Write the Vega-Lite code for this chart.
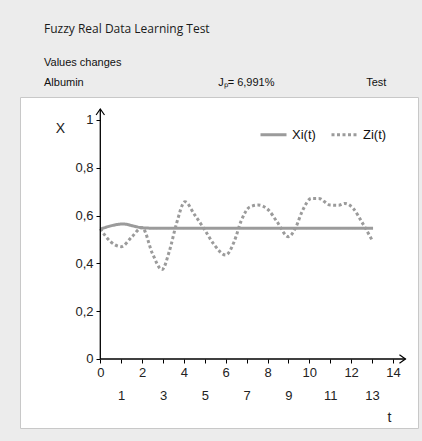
{
  "$schema": "https://vega.github.io/schema/vega-lite/v6.json",
  "width": 398,
  "height": 331,
  "autosize": {"type": "none"},
  "padding": {"left": 20, "top": 97, "right": 4, "bottom": 13},
  "background": "#ececec",
  "title": {
    "text": "Fuzzy Real Data Learning Test",
    "subtitle": ["Values changes", "Albumin\u00a0\u00a0\u00a0\u00a0\u00a0\u00a0\u00a0\u00a0\u00a0\u00a0\u00a0\u00a0\u00a0\u00a0\u00a0\u00a0\u00a0\u00a0\u00a0\u00a0\u00a0\u00a0\u00a0\u00a0\u00a0\u00a0\u00a0\u00a0\u00a0\u00a0\u00a0\u00a0\u00a0\u00a0\u00a0\u00a0\u00a0\u00a0\u00a0\u00a0\u00a0\u00a0\u00a0\u00a0Jₚ= 6,991%\u00a0\u00a0\u00a0\u00a0\u00a0\u00a0\u00a0\u00a0\u00a0\u00a0\u00a0\u00a0\u00a0\u00a0\u00a0\u00a0\u00a0\u00a0\u00a0\u00a0\u00a0\u00a0\u00a0\u00a0\u00a0\u00a0\u00a0\u00a0\u00a0\u00a0Test"],
    "anchor": "start",
    "frame": "group",
    "dx": 24,
    "offset": 8,
    "font": "Open Sans",
    "fontSize": 12,
    "fontWeight": "normal",
    "color": "#1a1a1a",
    "subtitleFont": "Liberation Sans",
    "subtitleFontSize": 11,
    "subtitleColor": "#111111",
    "subtitlePadding": 21,
    "subtitleLineHeight": 20
  },
  "config": {
    "view": {"fill": "white", "stroke": "#c8c8c8"},
    "axis": {
      "grid": false,
      "domain": false,
      "tickColor": "#000000",
      "tickSize": 4,
      "tickWidth": 1,
      "labelFont": "Liberation Sans",
      "labelFontSize": 13,
      "labelColor": "#222222",
      "labelPadding": 3,
      "labelOverlap": false,
      "labelFlush": false,
      "labelBound": false,
      "titleFont": "Liberation Sans",
      "titleFontSize": 14,
      "titleFontWeight": "normal",
      "titleColor": "#222222",
      "titleAngle": 0,
      "titleAlign": "center",
      "titleBaseline": "middle"
    }
  },
  "resolve": {"axis": {"x": "independent", "y": "independent"}},
  "datasets": {
    "curves": [
      {"t": 0, "v": 0.543, "series": "Xi(t)"},
      {"t": 0.5, "v": 0.557, "series": "Xi(t)"},
      {"t": 1.1, "v": 0.565, "series": "Xi(t)"},
      {"t": 1.6, "v": 0.556, "series": "Xi(t)"},
      {"t": 2.1, "v": 0.548, "series": "Xi(t)"},
      {"t": 3, "v": 0.547, "series": "Xi(t)"},
      {"t": 4, "v": 0.547, "series": "Xi(t)"},
      {"t": 5, "v": 0.547, "series": "Xi(t)"},
      {"t": 6, "v": 0.547, "series": "Xi(t)"},
      {"t": 7, "v": 0.547, "series": "Xi(t)"},
      {"t": 8, "v": 0.547, "series": "Xi(t)"},
      {"t": 9, "v": 0.547, "series": "Xi(t)"},
      {"t": 10, "v": 0.547, "series": "Xi(t)"},
      {"t": 11, "v": 0.547, "series": "Xi(t)"},
      {"t": 12, "v": 0.547, "series": "Xi(t)"},
      {"t": 13.05, "v": 0.547, "series": "Xi(t)"},
      {"t": 0, "v": 0.545, "series": "Zi(t)"},
      {"t": 0.5, "v": 0.49, "series": "Zi(t)"},
      {"t": 1.0, "v": 0.47, "series": "Zi(t)"},
      {"t": 1.5, "v": 0.51, "series": "Zi(t)"},
      {"t": 2.0, "v": 0.55, "series": "Zi(t)"},
      {"t": 2.5, "v": 0.44, "series": "Zi(t)"},
      {"t": 2.95, "v": 0.374, "series": "Zi(t)"},
      {"t": 3.3, "v": 0.45, "series": "Zi(t)"},
      {"t": 3.65, "v": 0.568, "series": "Zi(t)"},
      {"t": 4.05, "v": 0.658, "series": "Zi(t)"},
      {"t": 4.5, "v": 0.605, "series": "Zi(t)"},
      {"t": 5.0, "v": 0.54, "series": "Zi(t)"},
      {"t": 5.45, "v": 0.478, "series": "Zi(t)"},
      {"t": 6.0, "v": 0.435, "series": "Zi(t)"},
      {"t": 6.4, "v": 0.49, "series": "Zi(t)"},
      {"t": 6.75, "v": 0.58, "series": "Zi(t)"},
      {"t": 7.15, "v": 0.636, "series": "Zi(t)"},
      {"t": 7.55, "v": 0.644, "series": "Zi(t)"},
      {"t": 8.05, "v": 0.623, "series": "Zi(t)"},
      {"t": 8.45, "v": 0.575, "series": "Zi(t)"},
      {"t": 9.0, "v": 0.512, "series": "Zi(t)"},
      {"t": 9.35, "v": 0.55, "series": "Zi(t)"},
      {"t": 9.65, "v": 0.616, "series": "Zi(t)"},
      {"t": 10.1, "v": 0.672, "series": "Zi(t)"},
      {"t": 10.45, "v": 0.672, "series": "Zi(t)"},
      {"t": 11.0, "v": 0.644, "series": "Zi(t)"},
      {"t": 11.4, "v": 0.643, "series": "Zi(t)"},
      {"t": 11.7, "v": 0.651, "series": "Zi(t)"},
      {"t": 12.1, "v": 0.63, "series": "Zi(t)"},
      {"t": 12.5, "v": 0.575, "series": "Zi(t)"},
      {"t": 13.0, "v": 0.498, "series": "Zi(t)"}
    ]
  },
  "layer": [
    {
      "data": {"name": "curves"},
      "mark": {"type": "line", "interpolate": "monotone", "strokeWidth": 3, "color": "#9b9b9b", "strokeCap": "butt"},
      "encoding": {
        "x": {
          "field": "t",
          "type": "quantitative",
          "scale": {"domain": [-3.842, 15.2], "nice": false, "zero": false},
          "axis": {
            "orient": "bottom",
            "title": "t",
            "values": [0, 1, 2, 3, 4, 5, 6, 7, 8, 9, 10, 11, 12, 13, 14],
            "offset": -69,
            "format": "d",
            "labelOverlap": false,
            "labelPadding": {"condition": {"test": "datum.value % 2 == 1", "value": 26}, "value": 3},
            "titleX": 369,
            "titleY": 58
          }
        },
        "y": {
          "field": "v",
          "type": "quantitative",
          "scale": {"domain": [-0.2887, 1.0962], "nice": false, "zero": false},
          "axis": {
            "orient": "left",
            "title": "X",
            "values": [0, 0.2, 0.4, 0.6, 0.8, 1],
            "offset": -80,
            "labelOverlap": false,
            "labelExpr": "replace(format(datum.value, '.1~f'), '.', ',')",
            "titleX": -40,
            "titleY": 31
          }
        },
        "strokeDash": {
          "field": "series",
          "type": "nominal",
          "scale": {"domain": ["Xi(t)", "Zi(t)"], "range": [[1, 0], [3, 2.5]]},
          "legend": {
            "title": null,
            "orient": "none",
            "legendX": 239,
            "legendY": 23,
            "direction": "horizontal",
            "symbolType": "stroke",
            "symbolSize": 676,
            "symbolStrokeWidth": 3,
            "symbolStrokeColor": "#9b9b9b",
            "labelFont": "Liberation Sans",
            "labelFontSize": 13,
            "labelColor": "#111111",
            "labelOffset": 4,
            "columnPadding": 9,
            "padding": 0
          }
        }
      }
    },
    {
      "data": {"values": [{}]},
      "mark": {"type": "rule", "color": "#000000", "strokeWidth": 1.3},
      "encoding": {"x": {"datum": 0, "axis": null}, "x2": {"datum": 14.6}, "y": {"datum": 0, "axis": null}}
    },
    {
      "data": {"values": [{}]},
      "mark": {"type": "rule", "color": "#000000", "strokeWidth": 1.3},
      "encoding": {"x": {"datum": 0, "axis": null}, "y": {"datum": 0, "axis": null}, "y2": {"datum": 1.046}}
    },
    {
      "data": {"values": [{}]},
      "mark": {"type": "point", "shape": "M-1,-0.7L0,0L-1,0.7", "size": 144, "filled": false, "color": "#000000", "strokeWidth": 1.2, "opacity": 1},
      "encoding": {"x": {"datum": 14.6, "axis": null}, "y": {"datum": 0, "axis": null}}
    },
    {
      "data": {"values": [{}]},
      "mark": {"type": "point", "shape": "M-0.7,1L0,0L0.7,1", "size": 144, "filled": false, "color": "#000000", "strokeWidth": 1.2, "opacity": 1},
      "encoding": {"x": {"datum": 0, "axis": null}, "y": {"datum": 1.046, "axis": null}}
    }
  ]
}
